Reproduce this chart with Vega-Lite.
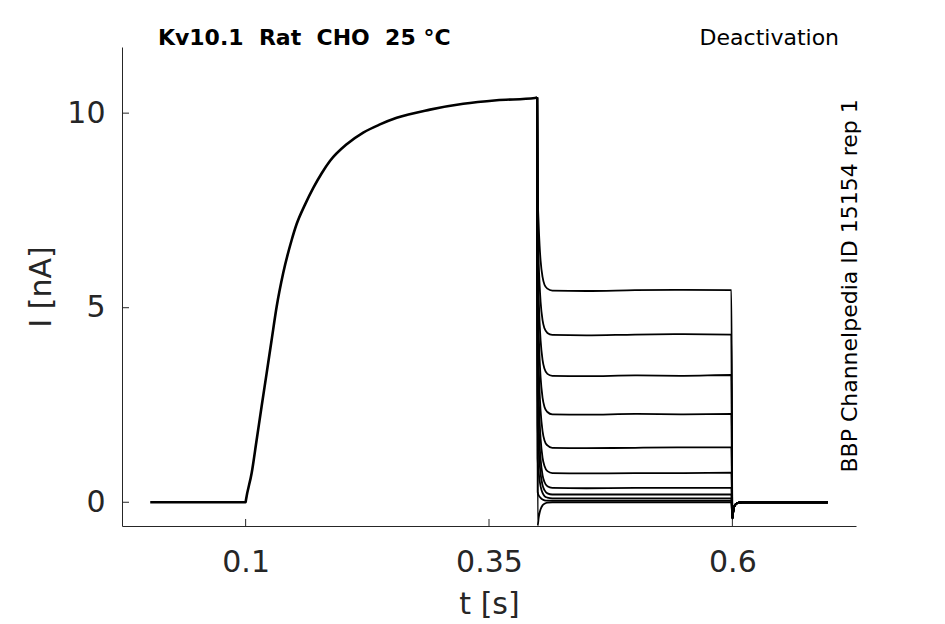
{
  "$schema": "https://vega.github.io/schema/vega-lite/v6.json",
  "autosize": "none",
  "width": 734,
  "height": 479,
  "padding": {"left": 122, "top": 47, "right": 89, "bottom": 98},
  "background": "white",
  "config": {
    "view": {"stroke": null},
    "font": "DejaVu Sans",
    "axis": {
      "grid": false,
      "ticks": false,
      "domainColor": "#262626",
      "domainWidth": 1,
      "labelFont": "DejaVu Sans",
      "labelFontSize": 30,
      "labelColor": "#262626",
      "titleFont": "DejaVu Sans",
      "titleFontSize": 30,
      "titleFontWeight": "normal",
      "titleColor": "#262626"
    }
  },
  "datasets": {
    "act": [
      {"t": 0.002, "I": 0.0},
      {"t": 0.05, "I": 0.0},
      {"t": 0.1, "I": 0.0},
      {"t": 0.1003, "I": 0.05},
      {"t": 0.1062, "I": 0.75},
      {"t": 0.1113, "I": 1.6},
      {"t": 0.1164, "I": 2.46},
      {"t": 0.1216, "I": 3.32},
      {"t": 0.1267, "I": 4.17},
      {"t": 0.1319, "I": 5.03},
      {"t": 0.1386, "I": 5.89},
      {"t": 0.1473, "I": 6.74},
      {"t": 0.1524, "I": 7.15},
      {"t": 0.161, "I": 7.65},
      {"t": 0.1695, "I": 8.08},
      {"t": 0.178, "I": 8.45},
      {"t": 0.1866, "I": 8.77},
      {"t": 0.2038, "I": 9.2},
      {"t": 0.2208, "I": 9.5},
      {"t": 0.238, "I": 9.71},
      {"t": 0.2552, "I": 9.88},
      {"t": 0.2894, "I": 10.09},
      {"t": 0.3236, "I": 10.24},
      {"t": 0.3579, "I": 10.33},
      {"t": 0.3973, "I": 10.39},
      {"t": 0.3995, "I": 10.4}
    ],
    "deact": [
      {"trace": 1, "t": 0.3995, "I": 10.4}, {"trace": 1, "t": 0.4, "I": 8.0}, {"trace": 1, "t": 0.401, "I": 7.16}, {"trace": 1, "t": 0.402, "I": 6.59}, {"trace": 1, "t": 0.403, "I": 6.21}, {"trace": 1, "t": 0.405, "I": 5.79}, {"trace": 1, "t": 0.407, "I": 5.59}, {"trace": 1, "t": 0.41, "I": 5.49}, {"trace": 1, "t": 0.415, "I": 5.44}, {"trace": 1, "t": 0.45, "I": 5.43}, {"trace": 1, "t": 0.5, "I": 5.45}, {"trace": 1, "t": 0.55, "I": 5.46}, {"trace": 1, "t": 0.599, "I": 5.45}, {"trace": 1, "t": 0.6, "I": -0.42}, {"trace": 1, "t": 0.601, "I": -0.22}, {"trace": 1, "t": 0.6025, "I": -0.08}, {"trace": 1, "t": 0.605, "I": -0.02}, {"trace": 1, "t": 0.61, "I": 0.0}, {"trace": 1, "t": 0.698, "I": 0.0},
      {"trace": 2, "t": 0.3995, "I": 10.4}, {"trace": 2, "t": 0.4, "I": 7.14}, {"trace": 2, "t": 0.401, "I": 6.2}, {"trace": 2, "t": 0.402, "I": 5.58}, {"trace": 2, "t": 0.403, "I": 5.15}, {"trace": 2, "t": 0.405, "I": 4.68}, {"trace": 2, "t": 0.407, "I": 4.47}, {"trace": 2, "t": 0.41, "I": 4.35}, {"trace": 2, "t": 0.415, "I": 4.3}, {"trace": 2, "t": 0.45, "I": 4.29}, {"trace": 2, "t": 0.5, "I": 4.31}, {"trace": 2, "t": 0.55, "I": 4.32}, {"trace": 2, "t": 0.599, "I": 4.31}, {"trace": 2, "t": 0.6, "I": -0.42}, {"trace": 2, "t": 0.601, "I": -0.22}, {"trace": 2, "t": 0.6025, "I": -0.08}, {"trace": 2, "t": 0.605, "I": -0.02}, {"trace": 2, "t": 0.61, "I": 0.0}, {"trace": 2, "t": 0.698, "I": 0.0},
      {"trace": 3, "t": 0.3995, "I": 10.4}, {"trace": 3, "t": 0.4, "I": 6.28}, {"trace": 3, "t": 0.401, "I": 5.28}, {"trace": 3, "t": 0.402, "I": 4.61}, {"trace": 3, "t": 0.403, "I": 4.16}, {"trace": 3, "t": 0.405, "I": 3.66}, {"trace": 3, "t": 0.407, "I": 3.43}, {"trace": 3, "t": 0.41, "I": 3.3}, {"trace": 3, "t": 0.415, "I": 3.25}, {"trace": 3, "t": 0.45, "I": 3.24}, {"trace": 3, "t": 0.5, "I": 3.26}, {"trace": 3, "t": 0.55, "I": 3.25}, {"trace": 3, "t": 0.599, "I": 3.27}, {"trace": 3, "t": 0.6, "I": -0.42}, {"trace": 3, "t": 0.601, "I": -0.22}, {"trace": 3, "t": 0.6025, "I": -0.08}, {"trace": 3, "t": 0.605, "I": -0.02}, {"trace": 3, "t": 0.61, "I": 0.0}, {"trace": 3, "t": 0.698, "I": 0.0},
      {"trace": 4, "t": 0.3995, "I": 10.4}, {"trace": 4, "t": 0.4, "I": 5.42}, {"trace": 4, "t": 0.401, "I": 4.38}, {"trace": 4, "t": 0.402, "I": 3.68}, {"trace": 4, "t": 0.403, "I": 3.21}, {"trace": 4, "t": 0.405, "I": 2.69}, {"trace": 4, "t": 0.407, "I": 2.45}, {"trace": 4, "t": 0.41, "I": 2.32}, {"trace": 4, "t": 0.415, "I": 2.26}, {"trace": 4, "t": 0.45, "I": 2.25}, {"trace": 4, "t": 0.5, "I": 2.27}, {"trace": 4, "t": 0.55, "I": 2.26}, {"trace": 4, "t": 0.599, "I": 2.27}, {"trace": 4, "t": 0.6, "I": -0.42}, {"trace": 4, "t": 0.601, "I": -0.22}, {"trace": 4, "t": 0.6025, "I": -0.08}, {"trace": 4, "t": 0.605, "I": -0.02}, {"trace": 4, "t": 0.61, "I": 0.0}, {"trace": 4, "t": 0.698, "I": 0.0},
      {"trace": 5, "t": 0.3995, "I": 10.4}, {"trace": 5, "t": 0.4, "I": 4.56}, {"trace": 5, "t": 0.401, "I": 3.52}, {"trace": 5, "t": 0.402, "I": 2.82}, {"trace": 5, "t": 0.403, "I": 2.35}, {"trace": 5, "t": 0.405, "I": 1.83}, {"trace": 5, "t": 0.407, "I": 1.59}, {"trace": 5, "t": 0.41, "I": 1.46}, {"trace": 5, "t": 0.415, "I": 1.4}, {"trace": 5, "t": 0.45, "I": 1.39}, {"trace": 5, "t": 0.5, "I": 1.4}, {"trace": 5, "t": 0.55, "I": 1.41}, {"trace": 5, "t": 0.599, "I": 1.41}, {"trace": 5, "t": 0.6, "I": -0.42}, {"trace": 5, "t": 0.601, "I": -0.22}, {"trace": 5, "t": 0.6025, "I": -0.08}, {"trace": 5, "t": 0.605, "I": -0.02}, {"trace": 5, "t": 0.61, "I": 0.0}, {"trace": 5, "t": 0.698, "I": 0.0},
      {"trace": 6, "t": 0.3995, "I": 10.4}, {"trace": 6, "t": 0.4, "I": 3.7}, {"trace": 6, "t": 0.401, "I": 2.73}, {"trace": 6, "t": 0.402, "I": 2.08}, {"trace": 6, "t": 0.403, "I": 1.64}, {"trace": 6, "t": 0.405, "I": 1.15}, {"trace": 6, "t": 0.407, "I": 0.93}, {"trace": 6, "t": 0.41, "I": 0.8}, {"trace": 6, "t": 0.415, "I": 0.75}, {"trace": 6, "t": 0.45, "I": 0.74}, {"trace": 6, "t": 0.5, "I": 0.75}, {"trace": 6, "t": 0.55, "I": 0.75}, {"trace": 6, "t": 0.599, "I": 0.76}, {"trace": 6, "t": 0.6, "I": -0.42}, {"trace": 6, "t": 0.601, "I": -0.22}, {"trace": 6, "t": 0.6025, "I": -0.08}, {"trace": 6, "t": 0.605, "I": -0.02}, {"trace": 6, "t": 0.61, "I": 0.0}, {"trace": 6, "t": 0.698, "I": 0.0},
      {"trace": 7, "t": 0.3995, "I": 10.4}, {"trace": 7, "t": 0.4, "I": 2.84}, {"trace": 7, "t": 0.401, "I": 2.02}, {"trace": 7, "t": 0.402, "I": 1.48}, {"trace": 7, "t": 0.403, "I": 1.11}, {"trace": 7, "t": 0.405, "I": 0.7}, {"trace": 7, "t": 0.407, "I": 0.52}, {"trace": 7, "t": 0.41, "I": 0.41}, {"trace": 7, "t": 0.415, "I": 0.37}, {"trace": 7, "t": 0.45, "I": 0.36}, {"trace": 7, "t": 0.5, "I": 0.37}, {"trace": 7, "t": 0.55, "I": 0.37}, {"trace": 7, "t": 0.599, "I": 0.37}, {"trace": 7, "t": 0.6, "I": -0.42}, {"trace": 7, "t": 0.601, "I": -0.22}, {"trace": 7, "t": 0.6025, "I": -0.08}, {"trace": 7, "t": 0.605, "I": -0.02}, {"trace": 7, "t": 0.61, "I": 0.0}, {"trace": 7, "t": 0.698, "I": 0.0},
      {"trace": 8, "t": 0.3995, "I": 10.4}, {"trace": 8, "t": 0.4, "I": 1.98}, {"trace": 8, "t": 0.401, "I": 1.39}, {"trace": 8, "t": 0.402, "I": 1.0}, {"trace": 8, "t": 0.403, "I": 0.73}, {"trace": 8, "t": 0.405, "I": 0.44}, {"trace": 8, "t": 0.407, "I": 0.31}, {"trace": 8, "t": 0.41, "I": 0.23}, {"trace": 8, "t": 0.415, "I": 0.2}, {"trace": 8, "t": 0.45, "I": 0.2}, {"trace": 8, "t": 0.5, "I": 0.2}, {"trace": 8, "t": 0.55, "I": 0.2}, {"trace": 8, "t": 0.599, "I": 0.2}, {"trace": 8, "t": 0.6, "I": -0.42}, {"trace": 8, "t": 0.601, "I": -0.22}, {"trace": 8, "t": 0.6025, "I": -0.08}, {"trace": 8, "t": 0.605, "I": -0.02}, {"trace": 8, "t": 0.61, "I": 0.0}, {"trace": 8, "t": 0.698, "I": 0.0},
      {"trace": 9, "t": 0.3995, "I": 10.4}, {"trace": 9, "t": 0.4, "I": 1.12}, {"trace": 9, "t": 0.401, "I": 0.78}, {"trace": 9, "t": 0.402, "I": 0.56}, {"trace": 9, "t": 0.403, "I": 0.41}, {"trace": 9, "t": 0.405, "I": 0.24}, {"trace": 9, "t": 0.407, "I": 0.16}, {"trace": 9, "t": 0.41, "I": 0.12}, {"trace": 9, "t": 0.415, "I": 0.1}, {"trace": 9, "t": 0.45, "I": 0.1}, {"trace": 9, "t": 0.5, "I": 0.1}, {"trace": 9, "t": 0.55, "I": 0.1}, {"trace": 9, "t": 0.599, "I": 0.1}, {"trace": 9, "t": 0.6, "I": -0.42}, {"trace": 9, "t": 0.601, "I": -0.22}, {"trace": 9, "t": 0.6025, "I": -0.08}, {"trace": 9, "t": 0.605, "I": -0.02}, {"trace": 9, "t": 0.61, "I": 0.0}, {"trace": 9, "t": 0.698, "I": 0.0},
      {"trace": 10, "t": 0.3995, "I": 10.4}, {"trace": 10, "t": 0.4, "I": 0.26}, {"trace": 10, "t": 0.401, "I": 0.18}, {"trace": 10, "t": 0.402, "I": 0.14}, {"trace": 10, "t": 0.403, "I": 0.11}, {"trace": 10, "t": 0.405, "I": 0.07}, {"trace": 10, "t": 0.407, "I": 0.05}, {"trace": 10, "t": 0.41, "I": 0.04}, {"trace": 10, "t": 0.415, "I": 0.04}, {"trace": 10, "t": 0.45, "I": 0.04}, {"trace": 10, "t": 0.5, "I": 0.04}, {"trace": 10, "t": 0.55, "I": 0.04}, {"trace": 10, "t": 0.599, "I": 0.04}, {"trace": 10, "t": 0.6, "I": -0.42}, {"trace": 10, "t": 0.601, "I": -0.22}, {"trace": 10, "t": 0.6025, "I": -0.08}, {"trace": 10, "t": 0.605, "I": -0.02}, {"trace": 10, "t": 0.61, "I": 0.0}, {"trace": 10, "t": 0.698, "I": 0.0},
      {"trace": 11, "t": 0.3995, "I": 10.4}, {"trace": 11, "t": 0.4, "I": -0.6}, {"trace": 11, "t": 0.401, "I": -0.4}, {"trace": 11, "t": 0.402, "I": -0.27}, {"trace": 11, "t": 0.403, "I": -0.18}, {"trace": 11, "t": 0.405, "I": -0.08}, {"trace": 11, "t": 0.407, "I": -0.04}, {"trace": 11, "t": 0.41, "I": -0.01}, {"trace": 11, "t": 0.415, "I": 0.0}, {"trace": 11, "t": 0.45, "I": 0.0}, {"trace": 11, "t": 0.5, "I": 0.0}, {"trace": 11, "t": 0.55, "I": 0.0}, {"trace": 11, "t": 0.599, "I": 0.0}, {"trace": 11, "t": 0.6, "I": -0.42}, {"trace": 11, "t": 0.601, "I": -0.22}, {"trace": 11, "t": 0.6025, "I": -0.08}, {"trace": 11, "t": 0.605, "I": -0.02}, {"trace": 11, "t": 0.61, "I": 0.0}, {"trace": 11, "t": 0.698, "I": 0.0}
    ],
    "xticks": [{"t": 0.1}, {"t": 0.35}, {"t": 0.6}],
    "yticks": [{"I": 0}, {"I": 5}, {"I": 10}],
    "notes": [
      {"kind": "title", "label": "Kv10.1\u00a0\u00a0Rat\u00a0\u00a0CHO\u00a0\u00a025 °C"},
      {"kind": "protocol", "label": "Deactivation"},
      {"kind": "source", "label": "BBP Channelpedia ID 15154 rep 1"}
    ]
  },
  "layer": [
    {
      "data": {"name": "act"},
      "mark": {"type": "line", "color": "black", "strokeWidth": 2.6, "strokeJoin": "round", "interpolate": "monotone"},
      "encoding": {
        "x": {
          "field": "t",
          "type": "quantitative",
          "scale": {"domain": [-0.027, 0.727], "nice": false, "zero": false},
          "axis": {"title": "t [s]", "values": [0.1, 0.35, 0.6], "labelExpr": "toString(datum.value)", "labelPadding": 21, "titlePadding": 12}
        },
        "y": {
          "field": "I",
          "type": "quantitative",
          "scale": {"domain": [-0.61, 11.7], "nice": false, "zero": false},
          "axis": {"title": "I [nA]", "values": [0, 5, 10], "labelExpr": "toString(datum.value)", "labelPadding": 17, "titlePadding": 10}
        }
      }
    },
    {
      "data": {"name": "deact"},
      "mark": {"type": "line", "color": "black", "strokeWidth": 1.8, "strokeJoin": "round", "interpolate": "monotone"},
      "encoding": {
        "x": {"field": "t", "type": "quantitative"},
        "y": {"field": "I", "type": "quantitative"},
        "detail": {"field": "trace", "type": "nominal"},
        "order": {"field": "t", "type": "quantitative"}
      }
    },
    {
      "data": {"name": "xticks"},
      "mark": {"type": "rule", "color": "#262626", "strokeWidth": 1},
      "encoding": {
        "x": {"field": "t", "type": "quantitative"},
        "y": {"datum": -0.61, "type": "quantitative"},
        "y2": {"datum": -0.43}
      }
    },
    {
      "data": {"name": "yticks"},
      "mark": {"type": "rule", "color": "#262626", "strokeWidth": 1},
      "encoding": {
        "y": {"field": "I", "type": "quantitative"},
        "x": {"datum": -0.027, "type": "quantitative"},
        "x2": {"datum": -0.0198}
      }
    },
    {
      "data": {"name": "notes"},
      "transform": [{"filter": "datum.kind == 'title'"}],
      "mark": {"type": "text", "align": "left", "baseline": "middle", "font": "DejaVu Sans", "fontWeight": "bold", "fontSize": 22, "color": "black"},
      "encoding": {"x": {"datum": 0.0099, "type": "quantitative"}, "y": {"datum": 11.94, "type": "quantitative"}, "text": {"field": "label"}}
    },
    {
      "data": {"name": "notes"},
      "transform": [{"filter": "datum.kind == 'protocol'"}],
      "mark": {"type": "text", "align": "right", "baseline": "middle", "font": "DejaVu Sans", "fontSize": 22, "color": "black"},
      "encoding": {"x": {"datum": 0.7096, "type": "quantitative"}, "y": {"datum": 11.94, "type": "quantitative"}, "text": {"field": "label"}}
    },
    {
      "data": {"name": "notes"},
      "transform": [{"filter": "datum.kind == 'source'"}],
      "mark": {"type": "text", "align": "center", "baseline": "middle", "angle": 270, "font": "DejaVu Sans", "fontSize": 22, "color": "black"},
      "encoding": {"x": {"datum": 0.7209, "type": "quantitative"}, "y": {"datum": 5.56, "type": "quantitative"}, "text": {"field": "label"}}
    }
  ]
}
